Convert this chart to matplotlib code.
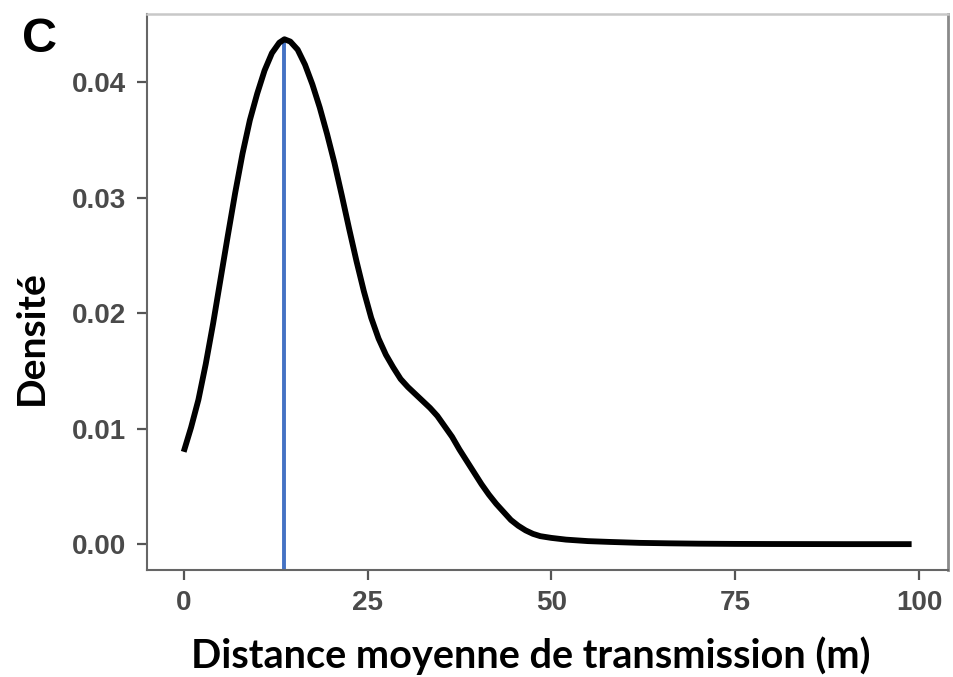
import matplotlib
matplotlib.use("Agg")
import matplotlib.pyplot as plt
import numpy as np

# ---- data ----
dist = [0, 1, 2, 3, 4, 5, 6, 7, 8, 9, 10, 11, 12, 13, 13.7, 14.5, 15.5, 16.5,
        17.5, 18.5, 19.5, 20.5, 21.5, 22.5, 23.5, 24.5, 25.5, 26.5, 27.5, 28.5,
        29.5, 30.5, 31.5, 32.5, 33.5, 34.5, 35.5, 36.5, 37.5, 38.5, 39.5, 40.5,
        41.5, 42.5, 43.5, 44.5, 45.5, 46.5, 47.5, 48.5, 50, 52, 55, 58, 62, 66,
        70, 75, 80, 90, 99]
density = [0.0080, 0.0101, 0.0125, 0.0156, 0.0191, 0.0229, 0.0267, 0.0304,
           0.0338, 0.0367, 0.0390, 0.0410, 0.0425, 0.0434, 0.0437, 0.0435,
           0.0428, 0.0415, 0.0398, 0.0378, 0.0355, 0.0330, 0.0302, 0.0273,
           0.0245, 0.0219, 0.0196, 0.0178, 0.0164, 0.0153, 0.0143, 0.0136,
           0.0130, 0.0124, 0.0118, 0.0111, 0.0102, 0.0093, 0.0082, 0.0072,
           0.0062, 0.0052, 0.0043, 0.0035, 0.0028, 0.0021, 0.0016, 0.0012,
           0.0009, 0.0007, 0.00055, 0.0004, 0.00027, 0.0002, 0.00012, 0.00008,
           0.00005, 0.00003, 0.00002, 0.00001, 0.00001]
mode_x = 13.7
mode_y = 0.0437
x_ticks = [0, 25, 50, 75, 100]
y_ticks = [0.00, 0.01, 0.02, 0.03, 0.04]
x_label = "Distance moyenne de transmission (m)"
y_label = "Densité"
panel = "C"

W, H = 954, 677
fig = plt.figure(figsize=(W / 100, H / 100), dpi=100)
fig.patch.set_facecolor("white")

L, R, T, B = 147.3, 948, 14, 569.5
ax = fig.add_axes([L / W, 1 - B / H, (R - L) / W, (B - T) / H])

ax.plot(dist, density, color="black", lw=4.2, solid_capstyle="butt",
        solid_joinstyle="round", zorder=3)

xr = max(dist) - min(dist)
yr = max(density) - 0
ax.set_xlim(min(dist) - 0.05 * xr, max(dist) + 0.05 * xr)
ylo = 0 - 0.05 * yr
ax.set_ylim(ylo, max(density) + 0.05 * yr)

ax.vlines(mode_x, ylo, mode_y, color="#4472C4", lw=2.8, zorder=2)

ax.set_xticks(x_ticks)
ax.set_yticks(y_ticks)
ax.set_yticklabels([f"{v:.2f}" for v in y_ticks])
for lab in ax.get_xticklabels() + ax.get_yticklabels():
    lab.set_fontfamily("Liberation Sans")
    lab.set_fontweight("bold")
    lab.set_fontsize(20)
    lab.set_color("#4a4a4a")
ax.tick_params(axis="both", direction="out", length=7, width=1.6,
               color="#555555")
ax.tick_params(axis="y", pad=8)
ax.tick_params(axis="x", pad=8)

for s in ["left", "bottom"]:
    ax.spines[s].set_color("#666666")
    ax.spines[s].set_linewidth(1.5)
ax.spines["top"].set_color("#c8c8c8")
ax.spines["top"].set_linewidth(1.8)
ax.spines["right"].set_color("#8a8a8a")
ax.spines["right"].set_linewidth(2.0)

# axis labels as figure text
xl = fig.text(531 / W, 1 - 656 / H, x_label, fontfamily="Lato",
              fontweight="bold", fontsize=28, ha="center", va="center",
              color="black")
yl = fig.text(31 / W, 1 - 338 / H, y_label, fontfamily="Lato",
              fontweight="bold", fontsize=28, ha="center", va="center",
              rotation=90, color="black")
fig.text(22 / W, 1 - 52 / H, panel, fontfamily="Liberation Sans",
         fontweight="bold", fontsize=35, ha="left", va="baseline",
         color="black")

# fit label font size to the reference width
fig.canvas.draw()
rend = fig.canvas.get_renderer()
wx = xl.get_window_extent(rend).width
xl.set_fontsize(28 * 678 / wx)
hy = yl.get_window_extent(rend).height
yl.set_fontsize(28 * 135 / hy)

fig.savefig("out.png", dpi=100, facecolor="white")
